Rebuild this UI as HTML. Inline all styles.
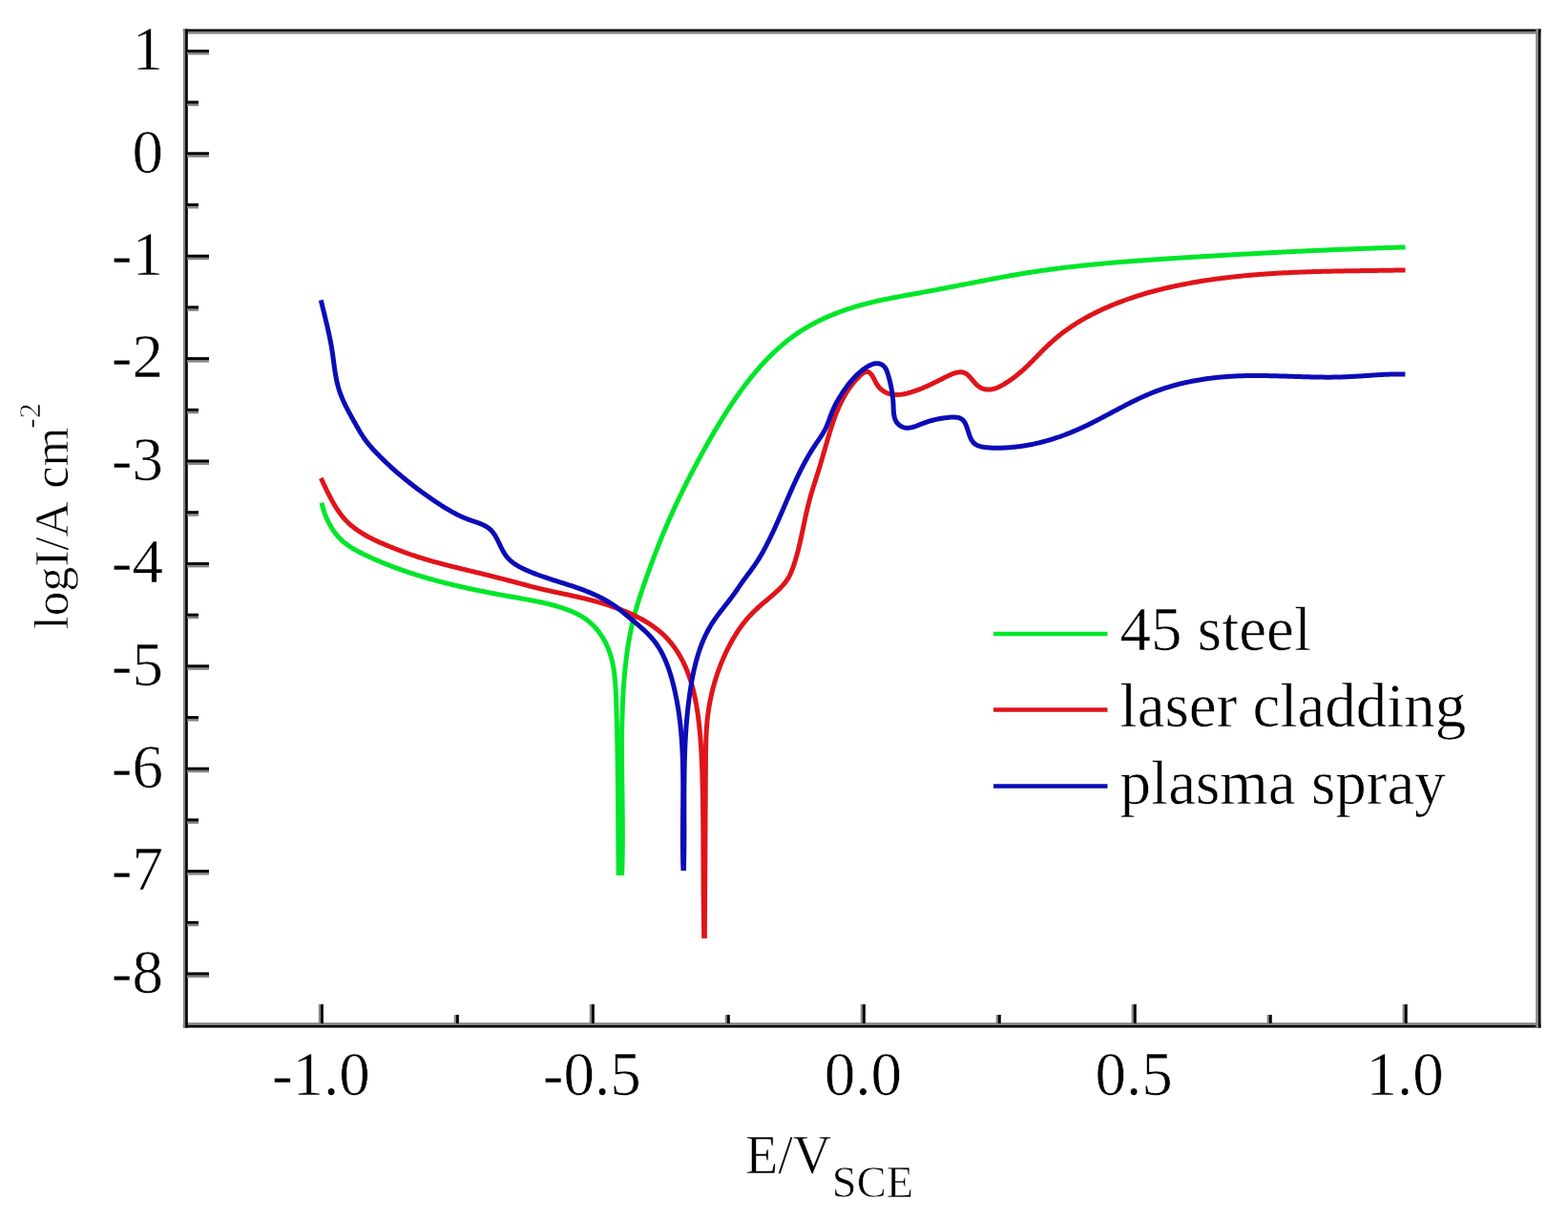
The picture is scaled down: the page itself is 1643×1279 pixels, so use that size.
<!DOCTYPE html>
<html><head><meta charset="utf-8"><title>Polarization curves</title>
<style>
html,body{margin:0;padding:0;background:#fff;}
svg{display:block;}
text{stroke:#fff;stroke-width:0.6px;}
.t{font-family:"Liberation Serif","Times New Roman",serif;font-size:65px;fill:#000;}
.a{font-family:"Liberation Serif","Times New Roman",serif;font-size:56px;fill:#000;}
.s{font-family:"Liberation Serif","Times New Roman",serif;font-size:46.5px;fill:#000;}
.y{font-family:"Liberation Serif","Times New Roman",serif;font-size:51.4px;fill:#000;}
.y2{font-family:"Liberation Serif","Times New Roman",serif;font-size:52.5px;fill:#000;}
.sup{font-family:"Liberation Serif","Times New Roman",serif;font-size:32px;fill:#000;}
</style></head><body>
<svg width="1643" height="1279" viewBox="0 0 1643 1279">
<rect width="1643" height="1279" fill="#fff"/>
<path d="M337.00,526.70L337.35,528.15L337.72,529.60L338.11,531.05L338.53,532.50L338.97,533.94L339.43,535.38L339.92,536.82L340.44,538.25L340.98,539.67L341.54,541.08L342.13,542.49L342.74,543.88L343.37,545.26L344.03,546.63L344.72,547.98L345.43,549.32L346.17,550.64L346.93,551.95L347.71,553.24L348.53,554.50L349.36,555.75L350.23,556.97L351.12,558.17L352.03,559.35L352.97,560.50L353.94,561.62L354.93,562.72L355.95,563.79L356.99,564.83L358.06,565.83L359.16,566.82L360.27,567.77L361.41,568.70L362.57,569.61L363.75,570.49L364.95,571.35L366.17,572.18L367.40,573.00L368.65,573.80L369.91,574.58L371.19,575.34L372.48,576.08L373.79,576.81L375.10,577.52L376.42,578.22L377.75,578.91L379.09,579.59L380.44,580.26L381.79,580.91L383.14,581.56L384.50,582.21L385.86,582.84L387.23,583.47L388.59,584.09L389.96,584.71L391.33,585.32L392.70,585.93L394.07,586.53L395.45,587.12L396.83,587.71L398.21,588.29L399.59,588.87L400.97,589.44L402.35,590.01L403.74,590.57L405.13,591.12L406.52,591.67L407.91,592.22L409.31,592.76L410.70,593.29L412.10,593.82L413.50,594.35L414.90,594.87L416.30,595.38L417.71,595.89L419.11,596.39L420.52,596.89L421.93,597.39L423.34,597.88L424.75,598.36L426.16,598.84L427.58,599.32L429.00,599.79L430.41,600.26L431.83,600.72L433.26,601.18L434.68,601.63L436.10,602.08L437.53,602.53L438.95,602.97L440.38,603.40L441.81,603.83L443.24,604.26L444.68,604.69L446.11,605.11L447.55,605.52L448.98,605.94L450.42,606.34L451.86,606.75L453.30,607.15L454.74,607.55L456.18,607.94L457.62,608.33L459.07,608.71L460.51,609.10L461.96,609.48L463.41,609.85L464.86,610.22L466.31,610.59L467.76,610.96L469.21,611.32L470.66,611.68L472.12,612.03L473.57,612.39L475.03,612.74L476.49,613.08L477.94,613.43L479.40,613.77L480.86,614.11L482.32,614.44L483.78,614.77L485.25,615.10L486.71,615.43L488.17,615.75L489.64,616.07L491.10,616.39L492.57,616.71L494.03,617.02L495.50,617.33L496.97,617.64L498.44,617.95L499.91,618.26L501.38,618.56L502.85,618.86L504.32,619.16L505.79,619.45L507.26,619.75L508.73,620.04L510.21,620.33L511.68,620.62L513.16,620.90L514.63,621.19L516.11,621.47L517.58,621.75L519.06,622.03L520.53,622.31L522.01,622.58L523.49,622.86L524.96,623.13L526.44,623.40L527.92,623.67L529.40,623.94L530.88,624.21L532.35,624.47L533.83,624.74L535.31,625.00L536.79,625.27L538.27,625.53L539.75,625.79L541.23,626.05L542.71,626.31L544.19,626.57L545.67,626.83L547.15,627.09L548.62,627.35L550.10,627.62L551.58,627.88L553.06,628.15L554.53,628.42L556.01,628.70L557.48,628.97L558.95,629.26L560.42,629.54L561.89,629.84L563.36,630.13L564.82,630.44L566.29,630.75L567.75,631.06L569.21,631.39L570.67,631.72L572.12,632.06L573.57,632.40L575.02,632.76L576.47,633.12L577.92,633.50L579.36,633.88L580.80,634.28L582.23,634.68L583.66,635.10L585.09,635.53L586.52,635.97L587.94,636.42L589.36,636.89L590.77,637.37L592.19,637.86L593.59,638.37L594.99,638.89L596.39,639.43L597.78,639.98L599.17,640.55L600.55,641.14L601.91,641.75L603.27,642.38L604.61,643.04L605.94,643.71L607.26,644.42L608.56,645.15L609.84,645.90L611.10,646.69L612.34,647.50L613.56,648.35L614.76,649.22L615.93,650.13L617.08,651.06L618.21,652.02L619.32,653.01L620.40,654.02L621.46,655.06L622.50,656.13L623.52,657.21L624.51,658.32L625.47,659.46L626.42,660.61L627.33,661.78L628.23,662.98L629.10,664.19L629.94,665.42L630.76,666.66L631.55,667.93L632.32,669.21L633.06,670.50L633.78,671.81L634.47,673.13L635.13,674.46L635.77,675.80L636.38,677.16L636.97,678.52L637.53,679.89L638.06,681.28L638.56,682.67L639.04,684.06L639.50,685.47L639.94,686.89L640.35,688.31L640.74,689.74L641.10,691.17L641.45,692.61L641.78,694.06L642.09,695.52L642.38,696.98L642.65,698.44L642.90,699.91L643.14,701.39L643.36,702.87L643.57,704.36L643.76,705.85L643.94,707.34L644.11,708.84L644.26,710.34L644.41,711.84L644.54,713.34L644.66,714.85L644.77,716.36L644.88,717.88L644.97,719.39L645.06,720.91L645.14,722.42L645.22,723.94L645.29,725.46L645.36,726.98L645.42,728.50L645.48,730.02L645.53,731.53L645.59,733.05L645.64,734.57L645.69,736.08L645.75,737.60L645.80,739.11L645.85,740.62L645.90,742.14L645.94,743.65L645.99,745.16L646.04,746.66L646.08,748.17L646.13,749.68L646.17,751.18L646.21,752.69L646.25,754.19L646.29,755.70L646.34,757.20L646.37,758.70L646.41,760.20L646.45,761.70L646.49,763.20L646.52,764.70L646.56,766.20L646.59,767.70L646.63,769.19L646.66,770.69L646.69,772.18L646.73,773.68L646.76,775.17L646.79,776.67L646.82,778.16L646.85,779.65L646.88,781.15L646.90,782.64L646.93,784.13L646.96,785.62L646.98,787.11L647.01,788.60L647.03,790.09L647.06,791.58L647.08,793.07L647.11,794.55L647.13,796.04L647.15,797.53L647.17,799.02L647.19,800.50L647.21,801.99L647.23,803.48L647.25,804.96L647.27,806.45L647.29,807.93L647.31,809.42L647.33,810.90L647.35,812.39L647.36,813.87L647.38,815.36L647.40,816.84L647.41,818.33L647.43,819.81L647.44,821.30L647.46,822.78L647.47,824.27L647.49,825.75L647.50,827.24L647.52,828.72L647.53,830.20L647.54,831.69L647.56,833.17L647.57,834.66L647.58,836.14L647.59,837.63L647.61,839.11L647.62,840.60L647.63,842.09L647.64,843.57L647.65,845.06L647.66,846.54L647.67,848.03L647.68,849.52L647.69,851.00L647.71,852.49L647.72,853.98L647.73,855.47L647.74,856.96L647.75,858.45L647.76,859.94L647.77,861.42L647.78,862.91L647.79,864.41L647.80,865.90L647.81,867.39L647.82,868.88L647.83,870.37L647.84,871.87L647.85,873.36L647.86,874.85L647.87,876.35L647.88,877.84L647.89,879.34L647.90,880.84L647.91,882.34L647.92,883.83L647.93,885.33L647.94,886.83L647.95,888.33L647.96,889.83L647.97,891.33L647.98,892.84L648.00,894.34L648.01,895.85L648.02,897.35L648.03,898.86L648.04,900.36L648.06,901.87L648.07,903.38L648.08,904.89L648.10,906.40L648.11,907.91L648.12,909.42L648.14,910.94L648.15,912.45L648.17,913.97L648.18,915.48L648.20,917.00" fill="none" stroke="#00e62a" stroke-width="5.0" stroke-linejoin="round" stroke-linecap="butt"/>
<path d="M651.60,917.00L651.66,915.50L651.71,914.01L651.76,912.51L651.81,911.02L651.85,909.52L651.90,908.02L651.94,906.53L651.98,905.03L652.02,903.53L652.05,902.04L652.08,900.54L652.11,899.04L652.14,897.55L652.17,896.05L652.19,894.55L652.21,893.05L652.23,891.56L652.25,890.06L652.27,888.56L652.28,887.06L652.29,885.57L652.30,884.07L652.31,882.57L652.32,881.07L652.33,879.57L652.33,878.07L652.33,876.58L652.34,875.08L652.34,873.58L652.34,872.08L652.33,870.58L652.33,869.08L652.32,867.58L652.32,866.08L652.31,864.58L652.30,863.08L652.29,861.59L652.28,860.09L652.27,858.59L652.26,857.09L652.25,855.59L652.24,854.09L652.22,852.59L652.21,851.09L652.19,849.59L652.17,848.09L652.16,846.59L652.14,845.09L652.12,843.59L652.10,842.09L652.09,840.59L652.07,839.09L652.05,837.59L652.03,836.09L652.01,834.59L651.99,833.09L651.97,831.59L651.95,830.09L651.93,828.59L651.91,827.09L651.89,825.59L651.87,824.09L651.85,822.59L651.83,821.09L651.81,819.59L651.79,818.09L651.77,816.59L651.75,815.09L651.74,813.58L651.72,812.08L651.70,810.58L651.69,809.08L651.67,807.58L651.65,806.08L651.64,804.58L651.63,803.08L651.61,801.58L651.60,800.08L651.59,798.58L651.58,797.08L651.57,795.58L651.56,794.08L651.56,792.58L651.55,791.08L651.55,789.58L651.54,788.08L651.54,786.58L651.54,785.08L651.54,783.58L651.54,782.08L651.54,780.58L651.55,779.09L651.55,777.59L651.56,776.09L651.57,774.59L651.58,773.09L651.59,771.59L651.61,770.09L651.62,768.59L651.64,767.09L651.66,765.59L651.68,764.09L651.71,762.60L651.73,761.10L651.76,759.60L651.79,758.10L651.82,756.60L651.86,755.10L651.89,753.60L651.93,752.11L651.97,750.61L652.02,749.11L652.06,747.61L652.11,746.12L652.16,744.62L652.22,743.12L652.27,741.62L652.33,740.13L652.39,738.63L652.46,737.13L652.52,735.63L652.59,734.14L652.67,732.64L652.74,731.14L652.82,729.65L652.90,728.15L652.99,726.66L653.07,725.16L653.16,723.66L653.26,722.17L653.36,720.67L653.46,719.18L653.56,717.68L653.67,716.19L653.78,714.69L653.89,713.20L654.01,711.70L654.13,710.21L654.26,708.72L654.39,707.22L654.52,705.73L654.66,704.24L654.80,702.74L654.94,701.25L655.09,699.76L655.25,698.27L655.41,696.78L655.57,695.29L655.74,693.80L655.91,692.31L656.09,690.82L656.27,689.34L656.46,687.85L656.65,686.37L656.85,684.88L657.06,683.40L657.27,681.91L657.48,680.43L657.70,678.95L657.93,677.47L658.16,675.99L658.40,674.52L658.65,673.04L658.90,671.57L659.16,670.09L659.42,668.62L659.69,667.15L659.97,665.68L660.25,664.21L660.54,662.74L660.84,661.28L661.14,659.81L661.45,658.35L661.77,656.89L662.09,655.43L662.43,653.97L662.77,652.51L663.11,651.06L663.47,649.61L663.83,648.15L664.20,646.71L664.58,645.26L664.96,643.81L665.35,642.37L665.75,640.92L666.15,639.48L666.56,638.04L666.97,636.60L667.39,635.16L667.82,633.73L668.25,632.29L668.69,630.86L669.13,629.43L669.57,627.99L670.03,626.56L670.48,625.14L670.94,623.71L671.40,622.28L671.87,620.86L672.34,619.43L672.82,618.01L673.30,616.59L673.78,615.17L674.27,613.75L674.75,612.33L675.25,610.91L675.74,609.49L676.23,608.08L676.73,606.66L677.23,605.25L677.73,603.83L678.24,602.42L678.74,601.01L679.25,599.60L679.76,598.19L680.27,596.78L680.78,595.37L681.30,593.96L681.82,592.55L682.33,591.15L682.86,589.74L683.38,588.34L683.90,586.93L684.43,585.53L684.96,584.13L685.49,582.73L686.02,581.33L686.56,579.93L687.10,578.53L687.64,577.13L688.18,575.74L688.73,574.34L689.27,572.95L689.82,571.55L690.37,570.16L690.93,568.77L691.48,567.38L692.04,565.99L692.61,564.60L693.17,563.21L693.74,561.83L694.31,560.44L694.88,559.06L695.45,557.68L696.03,556.29L696.61,554.91L697.19,553.53L697.78,552.16L698.37,550.78L698.96,549.40L699.55,548.03L700.15,546.65L700.75,545.28L701.35,543.91L701.96,542.54L702.57,541.17L703.18,539.80L703.79,538.44L704.41,537.07L705.03,535.71L705.65,534.34L706.28,532.98L706.90,531.62L707.54,530.26L708.17,528.91L708.80,527.55L709.44,526.19L710.08,524.84L710.73,523.48L711.37,522.13L712.02,520.78L712.67,519.43L713.33,518.08L713.98,516.73L714.64,515.39L715.30,514.04L715.96,512.70L716.63,511.35L717.29,510.01L717.96,508.67L718.63,507.33L719.31,505.99L719.98,504.66L720.66,503.32L721.34,501.98L722.02,500.65L722.70,499.32L723.39,497.98L724.07,496.65L724.76,495.32L725.45,493.99L726.14,492.67L726.84,491.34L727.53,490.01L728.23,488.69L728.93,487.37L729.63,486.04L730.33,484.72L731.04,483.40L731.74,482.08L732.45,480.77L733.16,479.45L733.87,478.14L734.59,476.82L735.30,475.51L736.02,474.20L736.74,472.89L737.46,471.58L738.19,470.27L738.91,468.96L739.64,467.66L740.37,466.35L741.11,465.05L741.84,463.75L742.58,462.45L743.32,461.15L744.06,459.85L744.81,458.56L745.56,457.26L746.31,455.97L747.06,454.68L747.82,453.39L748.58,452.10L749.34,450.81L750.11,449.53L750.87,448.24L751.64,446.96L752.42,445.68L753.20,444.40L753.98,443.12L754.76,441.84L755.54,440.57L756.33,439.30L757.13,438.02L757.92,436.75L758.72,435.49L759.52,434.22L760.33,432.95L761.14,431.69L761.95,430.43L762.77,429.17L763.58,427.91L764.41,426.65L765.23,425.40L766.06,424.15L766.90,422.90L767.74,421.65L768.58,420.40L769.42,419.16L770.27,417.92L771.13,416.68L771.99,415.45L772.85,414.21L773.72,412.99L774.59,411.76L775.46,410.54L776.34,409.32L777.23,408.10L778.12,406.89L779.01,405.68L779.91,404.47L780.81,403.27L781.72,402.07L782.63,400.88L783.55,399.69L784.48,398.51L785.40,397.33L786.34,396.15L787.28,394.98L788.22,393.81L789.17,392.65L790.13,391.49L791.09,390.34L792.05,389.19L793.02,388.05L794.00,386.92L794.99,385.79L795.97,384.66L796.97,383.54L797.97,382.43L798.98,381.32L799.99,380.22L801.01,379.12L802.04,378.03L803.07,376.95L804.11,375.88L805.15,374.81L806.20,373.74L807.26,372.69L808.32,371.64L809.39,370.60L810.47,369.56L811.55,368.53L812.64,367.52L813.74,366.50L814.85,365.50L815.96,364.50L817.07,363.52L818.20,362.54L819.33,361.57L820.47,360.60L821.61,359.65L822.76,358.71L823.92,357.77L825.09,356.84L826.26,355.92L827.44,355.02L828.63,354.12L829.82,353.23L831.03,352.35L832.24,351.48L833.45,350.62L834.68,349.77L835.91,348.93L837.15,348.10L838.39,347.29L839.65,346.48L840.91,345.68L842.18,344.89L843.45,344.12L844.73,343.35L846.02,342.59L847.32,341.84L848.62,341.11L849.93,340.38L851.24,339.66L852.56,338.95L853.88,338.26L855.22,337.57L856.55,336.89L857.89,336.22L859.24,335.56L860.59,334.91L861.95,334.26L863.32,333.63L864.68,333.01L866.06,332.39L867.43,331.79L868.81,331.19L870.20,330.60L871.59,330.02L872.98,329.45L874.38,328.89L875.78,328.34L877.19,327.79L878.60,327.25L880.01,326.73L881.42,326.21L882.84,325.70L884.26,325.19L885.69,324.70L887.12,324.21L888.55,323.73L889.98,323.26L891.41,322.80L892.85,322.34L894.29,321.89L895.73,321.45L897.17,321.02L898.62,320.60L900.06,320.18L901.51,319.77L902.96,319.37L904.41,318.97L905.86,318.59L907.32,318.21L908.77,317.83L910.22,317.46L911.68,317.10L913.14,316.75L914.59,316.40L916.05,316.06L917.51,315.72L918.97,315.39L920.43,315.06L921.90,314.74L923.36,314.42L924.82,314.11L926.29,313.80L927.75,313.50L929.22,313.20L930.68,312.90L932.15,312.61L933.61,312.32L935.08,312.04L936.55,311.75L938.02,311.47L939.49,311.19L940.96,310.92L942.43,310.64L943.90,310.37L945.37,310.10L946.84,309.83L948.31,309.57L949.78,309.30L951.25,309.04L952.73,308.77L954.20,308.51L955.67,308.24L957.14,307.98L958.61,307.71L960.09,307.45L961.56,307.18L963.03,306.92L964.50,306.65L965.98,306.38L967.45,306.11L968.92,305.84L970.39,305.57L971.86,305.30L973.34,305.02L974.81,304.75L976.28,304.47L977.75,304.20L979.22,303.92L980.69,303.64L982.17,303.36L983.64,303.08L985.11,302.80L986.58,302.52L988.05,302.23L989.52,301.95L990.99,301.67L992.47,301.38L993.94,301.10L995.41,300.81L996.88,300.53L998.35,300.24L999.82,299.95L1001.29,299.67L1002.77,299.38L1004.24,299.09L1005.71,298.81L1007.18,298.52L1008.65,298.23L1010.12,297.95L1011.60,297.66L1013.07,297.37L1014.54,297.09L1016.01,296.80L1017.48,296.51L1018.96,296.23L1020.43,295.94L1021.90,295.66L1023.37,295.37L1024.85,295.09L1026.32,294.80L1027.79,294.52L1029.26,294.24L1030.74,293.96L1032.21,293.68L1033.68,293.40L1035.16,293.12L1036.63,292.84L1038.10,292.56L1039.58,292.28L1041.05,292.01L1042.53,291.73L1044.00,291.46L1045.48,291.19L1046.95,290.91L1048.43,290.64L1049.90,290.38L1051.38,290.11L1052.85,289.84L1054.33,289.58L1055.80,289.31L1057.28,289.05L1058.75,288.79L1060.23,288.53L1061.71,288.28L1063.18,288.02L1064.66,287.77L1066.14,287.51L1067.62,287.26L1069.10,287.02L1070.57,286.77L1072.05,286.52L1073.53,286.28L1075.01,286.04L1076.49,285.80L1077.97,285.57L1079.45,285.33L1080.93,285.10L1082.41,284.87L1083.89,284.64L1085.37,284.42L1086.85,284.20L1088.33,283.98L1089.81,283.76L1091.30,283.54L1092.78,283.33L1094.26,283.12L1095.74,282.91L1097.23,282.70L1098.71,282.50L1100.19,282.30L1101.68,282.10L1103.16,281.90L1104.65,281.70L1106.13,281.51L1107.62,281.32L1109.10,281.13L1110.59,280.94L1112.07,280.75L1113.56,280.57L1115.05,280.39L1116.53,280.21L1118.02,280.03L1119.51,279.86L1121.00,279.68L1122.48,279.51L1123.97,279.34L1125.46,279.17L1126.95,279.00L1128.44,278.84L1129.92,278.68L1131.41,278.52L1132.90,278.36L1134.39,278.20L1135.88,278.04L1137.37,277.89L1138.86,277.73L1140.35,277.58L1141.84,277.43L1143.33,277.28L1144.82,277.14L1146.31,276.99L1147.80,276.85L1149.29,276.71L1150.79,276.57L1152.28,276.43L1153.77,276.29L1155.26,276.15L1156.75,276.02L1158.24,275.88L1159.74,275.75L1161.23,275.62L1162.72,275.49L1164.21,275.36L1165.71,275.23L1167.20,275.10L1168.69,274.98L1170.19,274.85L1171.68,274.73L1173.17,274.61L1174.67,274.49L1176.16,274.37L1177.66,274.25L1179.15,274.13L1180.64,274.01L1182.14,273.90L1183.63,273.78L1185.13,273.67L1186.62,273.56L1188.12,273.44L1189.61,273.33L1191.10,273.22L1192.60,273.11L1194.09,273.00L1195.59,272.90L1197.08,272.79L1198.58,272.68L1200.07,272.58L1201.57,272.47L1203.07,272.37L1204.56,272.26L1206.06,272.16L1207.55,272.06L1209.05,271.96L1210.54,271.85L1212.04,271.75L1213.53,271.65L1215.03,271.55L1216.53,271.45L1218.02,271.35L1219.52,271.26L1221.01,271.16L1222.51,271.06L1224.01,270.96L1225.50,270.87L1227.00,270.77L1228.49,270.67L1229.99,270.58L1231.49,270.48L1232.98,270.38L1234.48,270.29L1235.97,270.19L1237.47,270.10L1238.97,270.00L1240.46,269.91L1241.96,269.82L1243.45,269.72L1244.95,269.63L1246.45,269.54L1247.94,269.44L1249.44,269.35L1250.94,269.26L1252.43,269.17L1253.93,269.07L1255.42,268.98L1256.92,268.89L1258.42,268.80L1259.91,268.71L1261.41,268.62L1262.90,268.53L1264.40,268.44L1265.90,268.35L1267.39,268.26L1268.89,268.17L1270.39,268.08L1271.88,267.99L1273.38,267.91L1274.87,267.82L1276.37,267.73L1277.87,267.64L1279.36,267.56L1280.86,267.47L1282.36,267.38L1283.85,267.30L1285.35,267.21L1286.85,267.12L1288.34,267.04L1289.84,266.95L1291.33,266.87L1292.83,266.79L1294.33,266.70L1295.82,266.62L1297.32,266.53L1298.82,266.45L1300.31,266.37L1301.81,266.28L1303.31,266.20L1304.80,266.12L1306.30,266.04L1307.80,265.96L1309.29,265.88L1310.79,265.79L1312.29,265.71L1313.78,265.63L1315.28,265.55L1316.78,265.47L1318.27,265.39L1319.77,265.31L1321.27,265.24L1322.76,265.16L1324.26,265.08L1325.76,265.00L1327.25,264.92L1328.75,264.85L1330.25,264.77L1331.74,264.69L1333.24,264.62L1334.74,264.54L1336.23,264.46L1337.73,264.39L1339.23,264.31L1340.72,264.24L1342.22,264.16L1343.72,264.09L1345.21,264.02L1346.71,263.94L1348.21,263.87L1349.70,263.80L1351.20,263.72L1352.70,263.65L1354.20,263.58L1355.69,263.51L1357.19,263.43L1358.69,263.36L1360.18,263.29L1361.68,263.22L1363.18,263.15L1364.67,263.08L1366.17,263.01L1367.67,262.94L1369.17,262.87L1370.66,262.80L1372.16,262.74L1373.66,262.67L1375.15,262.60L1376.65,262.53L1378.15,262.47L1379.65,262.40L1381.14,262.33L1382.64,262.27L1384.14,262.20L1385.63,262.13L1387.13,262.07L1388.63,262.00L1390.13,261.94L1391.62,261.88L1393.12,261.81L1394.62,261.75L1396.12,261.69L1397.61,261.62L1399.11,261.56L1400.61,261.50L1402.10,261.44L1403.60,261.37L1405.10,261.31L1406.60,261.25L1408.09,261.19L1409.59,261.13L1411.09,261.07L1412.59,261.01L1414.08,260.95L1415.58,260.89L1417.08,260.83L1418.58,260.78L1420.07,260.72L1421.57,260.66L1423.07,260.60L1424.57,260.55L1426.06,260.49L1427.56,260.43L1429.06,260.38L1430.56,260.32L1432.06,260.27L1433.55,260.21L1435.05,260.16L1436.55,260.10L1438.05,260.05L1439.54,259.99L1441.04,259.94L1442.54,259.89L1444.04,259.83L1445.54,259.78L1447.03,259.73L1448.53,259.68L1450.03,259.63L1451.53,259.58L1453.03,259.53L1454.52,259.48L1456.02,259.43L1457.52,259.38L1459.02,259.33L1460.52,259.28L1462.01,259.23L1463.51,259.18L1465.01,259.13L1466.51,259.09L1468.01,259.04L1469.50,258.99L1471.00,258.95L1472.50,258.90" fill="none" stroke="#00e62a" stroke-width="5.0" stroke-linejoin="round" stroke-linecap="butt"/>
<path d="M336.30,500.90L336.93,502.22L337.56,503.55L338.20,504.88L338.83,506.22L339.47,507.57L340.11,508.92L340.75,510.28L341.40,511.64L342.06,513.00L342.72,514.36L343.39,515.73L344.06,517.09L344.74,518.45L345.44,519.80L346.14,521.15L346.85,522.50L347.57,523.84L348.30,525.17L349.04,526.50L349.79,527.81L350.56,529.12L351.34,530.42L352.14,531.70L352.95,532.97L353.78,534.22L354.62,535.46L355.48,536.69L356.36,537.90L357.25,539.09L358.16,540.26L359.10,541.41L360.05,542.54L361.02,543.65L362.02,544.73L363.03,545.79L364.07,546.83L365.13,547.85L366.21,548.84L367.30,549.81L368.42,550.76L369.55,551.69L370.70,552.60L371.87,553.50L373.05,554.37L374.25,555.22L375.47,556.06L376.70,556.88L377.94,557.68L379.20,558.47L380.47,559.24L381.75,560.00L383.04,560.74L384.34,561.47L385.66,562.18L386.98,562.89L388.32,563.58L389.66,564.25L391.01,564.92L392.37,565.57L393.73,566.22L395.10,566.86L396.48,567.48L397.86,568.10L399.25,568.71L400.64,569.31L402.03,569.91L403.42,570.50L404.82,571.08L406.22,571.66L407.62,572.23L409.02,572.80L410.42,573.36L411.83,573.92L413.23,574.47L414.63,575.02L416.03,575.57L417.44,576.11L418.84,576.65L420.24,577.18L421.65,577.71L423.06,578.23L424.46,578.74L425.87,579.25L427.28,579.76L428.69,580.26L430.11,580.75L431.52,581.24L432.93,581.72L434.35,582.20L435.77,582.67L437.19,583.13L438.61,583.59L440.03,584.04L441.46,584.48L442.88,584.93L444.31,585.36L445.74,585.79L447.17,586.22L448.60,586.64L450.03,587.05L451.46,587.47L452.90,587.87L454.33,588.28L455.77,588.68L457.21,589.07L458.65,589.46L460.09,589.85L461.53,590.24L462.97,590.62L464.41,591.00L465.86,591.37L467.30,591.75L468.75,592.12L470.19,592.48L471.64,592.85L473.09,593.21L474.54,593.57L475.99,593.93L477.44,594.29L478.89,594.65L480.34,595.01L481.79,595.36L483.24,595.71L484.70,596.07L486.15,596.42L487.60,596.77L489.06,597.12L490.51,597.47L491.97,597.82L493.42,598.18L494.87,598.53L496.33,598.88L497.79,599.23L499.24,599.58L500.70,599.94L502.15,600.29L503.61,600.65L505.06,601.00L506.52,601.36L507.97,601.71L509.43,602.07L510.89,602.43L512.34,602.79L513.80,603.15L515.25,603.51L516.71,603.87L518.16,604.24L519.61,604.60L521.07,604.97L522.52,605.34L523.97,605.71L525.43,606.08L526.88,606.45L528.33,606.83L529.78,607.20L531.23,607.58L532.68,607.96L534.13,608.34L535.58,608.73L537.03,609.11L538.48,609.50L539.93,609.89L541.37,610.28L542.82,610.67L544.26,611.07L545.71,611.46L547.15,611.85L548.60,612.25L550.04,612.64L551.49,613.03L552.94,613.41L554.38,613.79L555.83,614.17L557.28,614.55L558.73,614.92L560.18,615.28L561.63,615.64L563.09,615.99L564.54,616.34L566.00,616.69L567.46,617.03L568.92,617.36L570.37,617.70L571.83,618.02L573.30,618.35L574.76,618.67L576.22,618.99L577.68,619.31L579.14,619.63L580.61,619.95L582.07,620.26L583.53,620.57L585.00,620.88L586.46,621.19L587.93,621.50L589.39,621.82L590.85,622.13L592.32,622.44L593.78,622.75L595.24,623.06L596.71,623.38L598.17,623.70L599.63,624.01L601.09,624.33L602.55,624.66L604.01,624.98L605.47,625.31L606.93,625.65L608.39,625.98L609.84,626.32L611.30,626.67L612.75,627.02L614.20,627.37L615.65,627.73L617.11,628.09L618.55,628.46L620.00,628.84L621.45,629.22L622.89,629.60L624.33,630.00L625.77,630.40L627.21,630.81L628.65,631.22L630.08,631.64L631.52,632.07L632.95,632.50L634.37,632.95L635.80,633.40L637.22,633.85L638.64,634.32L640.06,634.80L641.48,635.28L642.89,635.77L644.30,636.27L645.71,636.78L647.11,637.29L648.51,637.82L649.91,638.35L651.31,638.90L652.70,639.45L654.09,640.02L655.47,640.59L656.85,641.17L658.23,641.77L659.61,642.37L660.98,642.99L662.34,643.61L663.70,644.25L665.06,644.89L666.41,645.55L667.75,646.23L669.09,646.91L670.42,647.61L671.75,648.32L673.06,649.04L674.37,649.78L675.67,650.53L676.96,651.30L678.25,652.08L679.52,652.88L680.78,653.69L682.03,654.52L683.27,655.36L684.50,656.22L685.72,657.10L686.92,657.99L688.11,658.90L689.29,659.82L690.45,660.77L691.59,661.72L692.72,662.70L693.83,663.70L694.93,664.71L696.01,665.74L697.07,666.79L698.11,667.85L699.14,668.93L700.14,670.03L701.13,671.15L702.10,672.28L703.05,673.43L703.98,674.59L704.90,675.77L705.80,676.96L706.68,678.16L707.54,679.38L708.38,680.60L709.21,681.84L710.02,683.10L710.81,684.36L711.58,685.63L712.33,686.91L713.07,688.21L713.79,689.51L714.49,690.82L715.18,692.13L715.85,693.46L716.50,694.80L717.13,696.14L717.75,697.49L718.35,698.85L718.94,700.21L719.51,701.59L720.07,702.97L720.61,704.35L721.14,705.75L721.65,707.15L722.15,708.55L722.63,709.96L723.10,711.38L723.56,712.80L724.01,714.23L724.44,715.67L724.86,717.11L725.26,718.55L725.66,720.00L726.04,721.45L726.41,722.91L726.77,724.37L727.12,725.83L727.46,727.30L727.79,728.77L728.10,730.25L728.41,731.73L728.71,733.21L729.00,734.69L729.27,736.18L729.54,737.66L729.80,739.15L730.05,740.65L730.30,742.14L730.53,743.63L730.76,745.13L730.98,746.63L731.19,748.13L731.40,749.63L731.60,751.12L731.79,752.62L731.98,754.12L732.15,755.62L732.33,757.12L732.50,758.62L732.66,760.12L732.82,761.62L732.97,763.11L733.12,764.61L733.26,766.10L733.40,767.60L733.54,769.09L733.67,770.58L733.79,772.07L733.91,773.56L734.03,775.05L734.14,776.54L734.25,778.03L734.36,779.52L734.46,781.01L734.56,782.50L734.65,783.99L734.74,785.47L734.83,786.96L734.91,788.45L734.99,789.94L735.07,791.42L735.14,792.91L735.22,794.40L735.28,795.88L735.35,797.37L735.41,798.85L735.48,800.34L735.53,801.83L735.59,803.31L735.64,804.80L735.70,806.29L735.75,807.77L735.80,809.26L735.84,810.75L735.89,812.23L735.93,813.72L735.97,815.21L736.01,816.70L736.05,818.19L736.09,819.68L736.12,821.17L736.16,822.66L736.19,824.15L736.23,825.64L736.26,827.13L736.29,828.63L736.32,830.12L736.35,831.61L736.38,833.11L736.41,834.60L736.43,836.09L736.46,837.59L736.48,839.09L736.51,840.58L736.53,842.08L736.55,843.57L736.57,845.07L736.59,846.57L736.61,848.07L736.63,849.56L736.65,851.06L736.67,852.56L736.69,854.06L736.70,855.56L736.72,857.06L736.73,858.56L736.75,860.06L736.76,861.56L736.78,863.06L736.79,864.56L736.80,866.06L736.81,867.56L736.82,869.06L736.83,870.57L736.85,872.07L736.86,873.57L736.87,875.07L736.87,876.57L736.88,878.08L736.89,879.58L736.90,881.08L736.91,882.58L736.92,884.09L736.92,885.59L736.93,887.09L736.94,888.60L736.95,890.10L736.95,891.60L736.96,893.10L736.97,894.61L736.97,896.11L736.98,897.61L736.98,899.12L736.99,900.62L737.00,902.12L737.00,903.63L737.01,905.13L737.01,906.63L737.02,908.14L737.03,909.64L737.03,911.14L737.04,912.65L737.04,914.15L737.05,915.65L737.06,917.15L737.06,918.66L737.07,920.16L737.08,921.66L737.09,923.16L737.09,924.66L737.10,926.17L737.11,927.67L737.12,929.17L737.13,930.67L737.14,932.17L737.15,933.67L737.16,935.17L737.17,936.67L737.18,938.17L737.19,939.67L737.20,941.17L737.21,942.67L737.23,944.17L737.24,945.67L737.25,947.16L737.27,948.66L737.28,950.16L737.30,951.66L737.31,953.15L737.33,954.65L737.35,956.15L737.37,957.64L737.39,959.14L737.41,960.63L737.43,962.13L737.45,963.62L737.47,965.11L737.49,966.61L737.51,968.10L737.54,969.59L737.56,971.08L737.59,972.58L737.62,974.07L737.65,975.56L737.67,977.05L737.70,978.54L737.74,980.02L737.77,981.51L737.80,983.00" fill="none" stroke="#e0141a" stroke-width="5.0" stroke-linejoin="round" stroke-linecap="butt"/>
<path d="M738.30,983.00L738.31,981.50L738.32,980.00L738.33,978.49L738.34,976.99L738.35,975.49L738.36,973.99L738.37,972.49L738.38,970.98L738.39,969.48L738.40,967.98L738.41,966.48L738.42,964.98L738.43,963.48L738.44,961.98L738.45,960.48L738.46,958.98L738.47,957.48L738.48,955.98L738.49,954.48L738.50,952.98L738.51,951.48L738.52,949.98L738.53,948.48L738.54,946.98L738.55,945.48L738.56,943.98L738.57,942.48L738.58,940.98L738.59,939.48L738.59,937.98L738.60,936.48L738.61,934.98L738.62,933.48L738.63,931.98L738.64,930.48L738.65,928.98L738.66,927.49L738.67,925.99L738.67,924.49L738.68,922.99L738.69,921.49L738.70,919.99L738.71,918.49L738.72,917.00L738.73,915.50L738.74,914.00L738.74,912.50L738.75,911.00L738.76,909.50L738.77,908.00L738.78,906.51L738.79,905.01L738.80,903.51L738.80,902.01L738.81,900.51L738.82,899.02L738.83,897.52L738.84,896.02L738.85,894.52L738.85,893.02L738.86,891.52L738.87,890.03L738.88,888.53L738.89,887.03L738.90,885.53L738.90,884.03L738.91,882.54L738.92,881.04L738.93,879.54L738.94,878.04L738.95,876.54L738.95,875.04L738.96,873.55L738.97,872.05L738.98,870.55L738.99,869.05L739.00,867.55L739.00,866.05L739.01,864.56L739.02,863.06L739.03,861.56L739.04,860.06L739.05,858.56L739.05,857.06L739.06,855.56L739.07,854.07L739.08,852.57L739.09,851.07L739.10,849.57L739.11,848.07L739.11,846.57L739.12,845.07L739.13,843.57L739.14,842.07L739.15,840.57L739.16,839.07L739.17,837.57L739.17,836.07L739.18,834.57L739.19,833.07L739.20,831.57L739.21,830.07L739.22,828.57L739.23,827.07L739.24,825.57L739.24,824.07L739.25,822.57L739.26,821.07L739.27,819.57L739.28,818.07L739.29,816.57L739.30,815.07L739.31,813.57L739.32,812.07L739.33,810.56L739.34,809.06L739.35,807.56L739.36,806.06L739.36,804.56L739.37,803.05L739.38,801.55L739.39,800.05L739.40,798.55L739.41,797.04L739.42,795.54L739.44,794.04L739.45,792.54L739.46,791.03L739.48,789.53L739.50,788.03L739.52,786.53L739.54,785.02L739.57,783.52L739.60,782.02L739.63,780.52L739.67,779.02L739.71,777.52L739.76,776.02L739.81,774.52L739.87,773.02L739.93,771.52L740.00,770.02L740.07,768.52L740.15,767.03L740.24,765.53L740.33,764.03L740.43,762.54L740.54,761.05L740.66,759.55L740.78,758.06L740.92,756.57L741.06,755.08L741.21,753.59L741.37,752.10L741.54,750.61L741.72,749.13L741.91,747.64L742.11,746.16L742.32,744.68L742.54,743.19L742.77,741.71L743.01,740.24L743.26,738.76L743.52,737.28L743.79,735.81L744.07,734.34L744.36,732.87L744.66,731.40L744.97,729.94L745.29,728.47L745.62,727.01L745.96,725.55L746.31,724.10L746.68,722.64L747.05,721.19L747.43,719.74L747.82,718.29L748.22,716.85L748.63,715.41L749.05,713.97L749.48,712.53L749.92,711.10L750.37,709.67L750.83,708.24L751.30,706.82L751.78,705.40L752.27,703.98L752.77,702.57L753.28,701.16L753.80,699.75L754.33,698.35L754.87,696.95L755.42,695.55L755.98,694.16L756.55,692.77L757.14,691.39L757.73,690.01L758.33,688.63L758.94,687.26L759.56,685.90L760.19,684.53L760.83,683.17L761.48,681.82L762.14,680.47L762.81,679.12L763.49,677.78L764.18,676.45L764.88,675.12L765.59,673.79L766.31,672.47L767.04,671.16L767.78,669.86L768.54,668.56L769.30,667.26L770.08,665.98L770.87,664.70L771.67,663.43L772.48,662.17L773.30,660.92L774.14,659.68L774.99,658.44L775.85,657.22L776.72,656.01L777.61,654.80L778.51,653.61L779.43,652.43L780.35,651.26L781.29,650.10L782.25,648.95L783.21,647.82L784.20,646.70L785.19,645.59L786.20,644.49L787.23,643.41L788.27,642.34L789.32,641.29L790.39,640.24L791.47,639.21L792.55,638.18L793.65,637.17L794.76,636.16L795.88,635.16L797.00,634.17L798.13,633.18L799.26,632.20L800.40,631.22L801.54,630.24L802.69,629.27L803.83,628.29L804.98,627.32L806.13,626.34L807.27,625.36L808.42,624.38L809.56,623.40L810.69,622.41L811.83,621.42L812.95,620.41L814.07,619.40L815.17,618.38L816.25,617.35L817.32,616.30L818.37,615.23L819.39,614.15L820.39,613.05L821.36,611.93L822.30,610.79L823.20,609.62L824.07,608.42L824.90,607.20L825.69,605.95L826.43,604.67L827.14,603.36L827.81,602.03L828.45,600.68L829.05,599.30L829.63,597.91L830.18,596.51L830.70,595.09L831.21,593.67L831.70,592.23L832.17,590.79L832.63,589.35L833.08,587.91L833.52,586.46L833.95,585.02L834.36,583.57L834.77,582.12L835.17,580.67L835.56,579.22L835.94,577.77L836.31,576.31L836.68,574.86L837.04,573.40L837.39,571.95L837.73,570.49L838.07,569.03L838.41,567.57L838.74,566.11L839.07,564.65L839.39,563.19L839.71,561.73L840.02,560.27L840.33,558.81L840.64,557.35L840.95,555.89L841.26,554.42L841.57,552.96L841.87,551.50L842.18,550.04L842.49,548.58L842.79,547.11L843.10,545.65L843.42,544.19L843.73,542.73L844.04,541.27L844.36,539.81L844.69,538.35L845.01,536.89L845.35,535.43L845.68,533.97L846.03,532.52L846.37,531.06L846.73,529.60L847.09,528.15L847.46,526.70L847.83,525.25L848.22,523.79L848.61,522.34L849.01,520.90L849.42,519.45L849.84,518.00L850.26,516.56L850.70,515.11L851.13,513.67L851.57,512.23L852.02,510.79L852.47,509.35L852.93,507.91L853.38,506.48L853.84,505.04L854.30,503.61L854.76,502.17L855.21,500.74L855.67,499.31L856.12,497.88L856.58,496.45L857.02,495.02L857.47,493.60L857.91,492.17L858.35,490.74L858.78,489.32L859.21,487.90L859.63,486.47L860.05,485.05L860.47,483.62L860.89,482.20L861.31,480.78L861.72,479.35L862.13,477.93L862.54,476.51L862.96,475.08L863.37,473.66L863.78,472.23L864.19,470.80L864.60,469.38L865.01,467.95L865.42,466.52L865.84,465.09L866.25,463.65L866.67,462.22L867.09,460.78L867.51,459.34L867.94,457.90L868.37,456.46L868.80,455.02L869.24,453.57L869.68,452.13L870.13,450.68L870.58,449.24L871.04,447.80L871.51,446.36L871.98,444.92L872.46,443.48L872.95,442.04L873.44,440.61L873.95,439.18L874.46,437.75L874.98,436.33L875.51,434.92L876.06,433.50L876.61,432.10L877.18,430.70L877.75,429.30L878.34,427.91L878.94,426.53L879.56,425.16L880.18,423.79L880.83,422.43L881.48,421.08L882.15,419.74L882.84,418.41L883.54,417.08L884.26,415.77L884.99,414.47L885.74,413.18L886.51,411.90L887.29,410.63L888.09,409.38L888.92,408.13L889.76,406.90L890.62,405.69L891.50,404.48L892.40,403.29L893.32,402.12L894.26,400.96L895.23,399.82L896.21,398.69L897.22,397.58L898.25,396.48L899.31,395.40L900.39,394.34L901.49,393.30L902.62,392.27L903.77,391.30L904.93,390.44L906.11,389.77L907.29,389.35L908.48,389.26L909.65,389.55L910.80,390.18L911.90,391.09L912.95,392.22L913.91,393.53L914.79,394.94L915.61,396.44L916.39,397.98L917.16,399.52L917.94,401.03L918.77,402.46L919.65,403.80L920.59,405.05L921.58,406.20L922.62,407.27L923.71,408.24L924.84,409.13L926.02,409.93L927.23,410.64L928.49,411.27L929.77,411.82L931.10,412.28L932.45,412.67L933.82,412.98L935.23,413.22L936.65,413.38L938.10,413.47L939.56,413.50L941.04,413.46L942.53,413.37L944.03,413.22L945.54,413.02L947.06,412.78L948.58,412.48L950.10,412.15L951.62,411.78L953.13,411.37L954.64,410.93L956.15,410.47L957.64,409.98L959.12,409.47L960.58,408.94L962.02,408.40L963.45,407.85L964.85,407.29L966.24,406.73L967.60,406.15L968.95,405.57L970.29,404.99L971.61,404.40L972.92,403.80L974.23,403.19L975.53,402.58L976.83,401.96L978.12,401.33L979.42,400.69L980.72,400.05L982.03,399.40L983.35,398.74L984.67,398.08L986.01,397.41L987.36,396.73L988.74,396.04L990.13,395.35L991.54,394.64L992.96,393.94L994.41,393.26L995.86,392.60L997.31,391.98L998.77,391.41L1000.22,390.91L1001.66,390.49L1003.08,390.15L1004.49,389.92L1005.87,389.80L1007.22,389.81L1008.54,389.96L1009.82,390.26L1011.06,390.73L1012.25,391.37L1013.39,392.18L1014.50,393.14L1015.58,394.22L1016.65,395.38L1017.70,396.62L1018.76,397.89L1019.82,399.17L1020.91,400.44L1022.02,401.68L1023.17,402.84L1024.37,403.92L1025.62,404.88L1026.92,405.71L1028.25,406.43L1029.61,407.02L1030.98,407.47L1032.37,407.80L1033.76,408.01L1035.16,408.10L1036.57,408.07L1037.98,407.95L1039.38,407.73L1040.79,407.42L1042.20,407.03L1043.60,406.57L1045.00,406.03L1046.39,405.43L1047.77,404.78L1049.14,404.08L1050.50,403.34L1051.85,402.57L1053.18,401.76L1054.49,400.94L1055.78,400.10L1057.05,399.26L1058.31,398.40L1059.55,397.54L1060.77,396.66L1061.97,395.78L1063.16,394.88L1064.34,393.97L1065.50,393.05L1066.65,392.12L1067.79,391.18L1068.91,390.23L1070.03,389.26L1071.15,388.28L1072.25,387.29L1073.34,386.29L1074.43,385.27L1075.52,384.25L1076.60,383.21L1077.67,382.17L1078.74,381.12L1079.81,380.06L1080.87,379.00L1081.93,377.93L1082.99,376.86L1084.05,375.79L1085.10,374.71L1086.16,373.63L1087.22,372.55L1088.27,371.47L1089.33,370.39L1090.39,369.31L1091.45,368.23L1092.52,367.16L1093.59,366.09L1094.66,365.03L1095.74,363.97L1096.82,362.92L1097.91,361.88L1099.01,360.84L1100.11,359.82L1101.22,358.80L1102.34,357.80L1103.46,356.80L1104.60,355.82L1105.74,354.84L1106.88,353.88L1108.04,352.93L1109.20,351.98L1110.37,351.05L1111.55,350.13L1112.73,349.21L1113.92,348.31L1115.12,347.41L1116.32,346.53L1117.53,345.65L1118.75,344.79L1119.97,343.93L1121.20,343.09L1122.43,342.25L1123.67,341.42L1124.92,340.60L1126.17,339.79L1127.43,338.99L1128.70,338.20L1129.97,337.41L1131.24,336.64L1132.52,335.87L1133.81,335.12L1135.10,334.37L1136.40,333.63L1137.70,332.90L1139.01,332.17L1140.32,331.46L1141.63,330.75L1142.95,330.05L1144.28,329.36L1145.61,328.68L1146.94,328.00L1148.28,327.34L1149.62,326.68L1150.97,326.03L1152.32,325.38L1153.68,324.75L1155.04,324.12L1156.40,323.49L1157.76,322.88L1159.13,322.27L1160.51,321.67L1161.88,321.08L1163.26,320.50L1164.64,319.92L1166.03,319.34L1167.42,318.78L1168.81,318.22L1170.20,317.67L1171.60,317.12L1173.00,316.59L1174.40,316.05L1175.81,315.53L1177.21,315.01L1178.62,314.50L1180.03,313.99L1181.45,313.49L1182.86,312.99L1184.28,312.51L1185.70,312.02L1187.12,311.55L1188.55,311.08L1189.98,310.61L1191.41,310.16L1192.84,309.70L1194.27,309.26L1195.70,308.81L1197.14,308.38L1198.58,307.95L1200.02,307.52L1201.46,307.11L1202.90,306.69L1204.35,306.28L1205.79,305.88L1207.24,305.48L1208.69,305.09L1210.14,304.71L1211.60,304.32L1213.05,303.95L1214.51,303.58L1215.96,303.21L1217.42,302.85L1218.88,302.49L1220.34,302.14L1221.80,301.79L1223.26,301.45L1224.73,301.11L1226.19,300.78L1227.66,300.45L1229.13,300.13L1230.59,299.81L1232.06,299.50L1233.53,299.19L1235.00,298.88L1236.47,298.58L1237.94,298.28L1239.42,297.99L1240.89,297.70L1242.36,297.42L1243.84,297.14L1245.31,296.86L1246.79,296.59L1248.26,296.32L1249.74,296.05L1251.22,295.79L1252.69,295.54L1254.17,295.28L1255.65,295.03L1257.13,294.79L1258.61,294.55L1260.09,294.31L1261.57,294.07L1263.05,293.84L1264.53,293.62L1266.01,293.39L1267.49,293.17L1268.97,292.96L1270.46,292.74L1271.94,292.53L1273.42,292.33L1274.91,292.13L1276.39,291.93L1277.88,291.73L1279.36,291.54L1280.85,291.35L1282.33,291.16L1283.82,290.98L1285.31,290.80L1286.79,290.62L1288.28,290.45L1289.77,290.28L1291.26,290.11L1292.75,289.95L1294.23,289.79L1295.72,289.63L1297.21,289.47L1298.70,289.32L1300.19,289.17L1301.68,289.02L1303.17,288.88L1304.67,288.74L1306.16,288.60L1307.65,288.47L1309.14,288.33L1310.63,288.20L1312.13,288.07L1313.62,287.95L1315.11,287.83L1316.61,287.71L1318.10,287.59L1319.59,287.47L1321.09,287.36L1322.58,287.25L1324.08,287.14L1325.57,287.04L1327.07,286.93L1328.56,286.83L1330.06,286.73L1331.56,286.64L1333.05,286.54L1334.55,286.45L1336.05,286.36L1337.54,286.27L1339.04,286.18L1340.54,286.10L1342.03,286.02L1343.53,285.94L1345.03,285.86L1346.53,285.78L1348.03,285.71L1349.53,285.64L1351.02,285.56L1352.52,285.50L1354.02,285.43L1355.52,285.36L1357.02,285.30L1358.52,285.24L1360.02,285.17L1361.52,285.12L1363.02,285.06L1364.52,285.00L1366.02,284.95L1367.52,284.89L1369.02,284.84L1370.52,284.79L1372.02,284.74L1373.52,284.69L1375.02,284.65L1376.52,284.60L1378.02,284.56L1379.52,284.52L1381.02,284.47L1382.52,284.43L1384.02,284.39L1385.53,284.36L1387.03,284.32L1388.53,284.28L1390.03,284.25L1391.53,284.21L1393.03,284.18L1394.53,284.15L1396.03,284.12L1397.53,284.09L1399.04,284.06L1400.54,284.03L1402.04,284.00L1403.54,283.97L1405.04,283.94L1406.54,283.92L1408.04,283.89L1409.54,283.86L1411.05,283.84L1412.55,283.82L1414.05,283.79L1415.55,283.77L1417.05,283.75L1418.55,283.72L1420.05,283.70L1421.55,283.68L1423.05,283.66L1424.55,283.64L1426.05,283.61L1427.55,283.59L1429.05,283.57L1430.55,283.55L1432.05,283.53L1433.55,283.51L1435.05,283.49L1436.55,283.47L1438.05,283.45L1439.55,283.43L1441.05,283.41L1442.55,283.39L1444.05,283.37L1445.55,283.35L1447.05,283.32L1448.55,283.30L1450.05,283.28L1451.54,283.26L1453.04,283.24L1454.54,283.21L1456.04,283.19L1457.54,283.17L1459.03,283.14L1460.53,283.12L1462.03,283.09L1463.52,283.07L1465.02,283.04L1466.52,283.01L1468.01,282.99L1469.51,282.96L1471.00,282.93L1472.50,282.90" fill="none" stroke="#e0141a" stroke-width="5.0" stroke-linejoin="round" stroke-linecap="butt"/>
<path d="M336.30,314.40L336.64,315.86L336.99,317.31L337.34,318.77L337.69,320.22L338.04,321.67L338.39,323.12L338.75,324.58L339.10,326.03L339.46,327.48L339.81,328.93L340.17,330.38L340.52,331.83L340.87,333.29L341.22,334.74L341.57,336.19L341.92,337.64L342.27,339.10L342.61,340.55L342.95,342.01L343.29,343.46L343.62,344.92L343.95,346.38L344.27,347.84L344.59,349.30L344.91,350.76L345.21,352.22L345.52,353.69L345.81,355.16L346.11,356.63L346.39,358.10L346.67,359.57L346.94,361.05L347.20,362.52L347.45,364.00L347.70,365.49L347.93,366.97L348.16,368.46L348.38,369.95L348.59,371.44L348.80,372.94L349.01,374.43L349.21,375.93L349.41,377.43L349.61,378.92L349.81,380.42L350.01,381.91L350.22,383.41L350.43,384.90L350.64,386.39L350.86,387.88L351.09,389.36L351.33,390.85L351.58,392.33L351.84,393.80L352.11,395.27L352.39,396.74L352.69,398.20L353.00,399.66L353.33,401.11L353.68,402.56L354.04,404.00L354.43,405.43L354.84,406.86L355.27,408.28L355.72,409.69L356.20,411.09L356.70,412.49L357.22,413.88L357.76,415.26L358.32,416.63L358.90,418.00L359.49,419.37L360.10,420.73L360.73,422.08L361.37,423.43L362.03,424.78L362.69,426.12L363.37,427.45L364.06,428.79L364.76,430.12L365.46,431.44L366.18,432.77L366.90,434.09L367.63,435.41L368.36,436.73L369.09,438.04L369.83,439.36L370.57,440.67L371.31,441.99L372.05,443.30L372.79,444.62L373.53,445.93L374.27,447.24L375.02,448.55L375.77,449.85L376.53,451.15L377.30,452.43L378.08,453.72L378.87,454.99L379.67,456.25L380.49,457.50L381.32,458.73L382.18,459.96L383.05,461.16L383.94,462.36L384.86,463.53L385.79,464.70L386.73,465.85L387.69,466.99L388.67,468.12L389.65,469.24L390.65,470.35L391.66,471.45L392.68,472.54L393.71,473.63L394.74,474.71L395.78,475.78L396.82,476.85L397.87,477.91L398.93,478.97L399.99,480.03L401.06,481.08L402.13,482.12L403.21,483.16L404.29,484.19L405.37,485.22L406.47,486.25L407.56,487.27L408.66,488.28L409.77,489.29L410.88,490.30L411.99,491.30L413.11,492.30L414.24,493.29L415.37,494.27L416.50,495.26L417.63,496.23L418.78,497.21L419.92,498.17L421.07,499.14L422.22,500.09L423.38,501.05L424.54,502.00L425.71,502.94L426.88,503.88L428.05,504.82L429.22,505.75L430.40,506.68L431.59,507.60L432.77,508.52L433.96,509.43L435.16,510.34L436.35,511.24L437.55,512.14L438.76,513.04L439.96,513.93L441.17,514.82L442.38,515.70L443.60,516.58L444.81,517.45L446.03,518.32L447.26,519.19L448.48,520.05L449.71,520.91L450.94,521.76L452.17,522.61L453.41,523.45L454.65,524.29L455.89,525.13L457.13,525.96L458.37,526.79L459.62,527.61L460.87,528.43L462.13,529.24L463.39,530.04L464.65,530.84L465.92,531.63L467.19,532.41L468.47,533.18L469.75,533.94L471.04,534.69L472.34,535.43L473.64,536.16L474.95,536.88L476.27,537.58L477.60,538.27L478.93,538.95L480.28,539.62L481.63,540.27L482.99,540.90L484.37,541.52L485.75,542.12L487.14,542.71L488.55,543.28L489.96,543.83L491.39,544.36L492.83,544.88L494.28,545.38L495.73,545.87L497.17,546.36L498.62,546.85L500.05,547.35L501.47,547.86L502.87,548.39L504.25,548.95L505.60,549.53L506.91,550.15L508.20,550.81L509.44,551.51L510.64,552.27L511.79,553.07L512.89,553.94L513.93,554.87L514.93,555.86L515.87,556.91L516.77,558.01L517.61,559.18L518.42,560.39L519.20,561.65L519.94,562.95L520.65,564.28L521.35,565.63L522.03,567.01L522.70,568.40L523.37,569.80L524.04,571.20L524.71,572.60L525.39,574.00L526.09,575.38L526.81,576.74L527.56,578.07L528.33,579.38L529.15,580.64L530.00,581.87L530.90,583.05L531.84,584.17L532.83,585.25L533.86,586.29L534.93,587.28L536.04,588.24L537.18,589.15L538.36,590.03L539.56,590.87L540.80,591.68L542.06,592.46L543.34,593.21L544.64,593.93L545.97,594.63L547.30,595.30L548.66,595.96L550.02,596.59L551.40,597.21L552.78,597.81L554.17,598.40L555.56,598.98L556.96,599.55L558.35,600.11L559.76,600.65L561.16,601.19L562.57,601.72L563.98,602.24L565.39,602.75L566.80,603.25L568.22,603.75L569.64,604.24L571.06,604.73L572.48,605.21L573.90,605.68L575.33,606.15L576.75,606.62L578.18,607.08L579.61,607.54L581.04,608.00L582.46,608.45L583.89,608.91L585.32,609.36L586.75,609.81L588.18,610.26L589.61,610.72L591.04,611.17L592.46,611.63L593.89,612.09L595.32,612.55L596.74,613.01L598.17,613.48L599.59,613.95L601.01,614.42L602.43,614.91L603.84,615.39L605.26,615.88L606.67,616.38L608.08,616.89L609.49,617.41L610.90,617.93L612.30,618.46L613.70,619.00L615.09,619.55L616.49,620.11L617.88,620.68L619.26,621.26L620.64,621.85L622.02,622.46L623.39,623.08L624.76,623.71L626.12,624.35L627.48,625.00L628.82,625.67L630.16,626.35L631.50,627.05L632.82,627.76L634.13,628.48L635.44,629.22L636.73,629.97L638.02,630.74L639.29,631.52L640.55,632.31L641.80,633.12L643.03,633.95L644.25,634.79L645.46,635.65L646.65,636.53L647.83,637.42L649.00,638.33L650.16,639.25L651.31,640.18L652.45,641.12L653.59,642.07L654.72,643.02L655.86,643.98L657.00,644.94L658.14,645.91L659.29,646.87L660.45,647.84L661.61,648.80L662.78,649.77L663.95,650.73L665.12,651.70L666.29,652.68L667.46,653.66L668.62,654.64L669.78,655.63L670.94,656.62L672.08,657.62L673.22,658.64L674.35,659.65L675.46,660.68L676.57,661.72L677.66,662.77L678.73,663.84L679.78,664.91L680.82,666.00L681.84,667.10L682.83,668.22L683.80,669.35L684.75,670.50L685.67,671.67L686.57,672.85L687.44,674.05L688.29,675.27L689.12,676.50L689.92,677.74L690.71,679.00L691.47,680.27L692.21,681.55L692.93,682.84L693.63,684.15L694.31,685.47L694.98,686.80L695.62,688.14L696.24,689.49L696.85,690.86L697.44,692.23L698.02,693.60L698.58,694.99L699.12,696.39L699.64,697.79L700.16,699.20L700.66,700.62L701.14,702.04L701.61,703.47L702.07,704.90L702.52,706.34L702.95,707.78L703.38,709.22L703.79,710.67L704.19,712.12L704.58,713.58L704.97,715.03L705.34,716.49L705.71,717.95L706.06,719.41L706.41,720.87L706.75,722.33L707.09,723.80L707.41,725.26L707.73,726.72L708.04,728.19L708.34,729.66L708.63,731.13L708.91,732.60L709.19,734.07L709.46,735.54L709.73,737.01L709.98,738.48L710.23,739.96L710.47,741.43L710.71,742.91L710.94,744.39L711.16,745.86L711.37,747.34L711.58,748.82L711.78,750.30L711.98,751.78L712.17,753.26L712.35,754.75L712.53,756.23L712.70,757.72L712.87,759.20L713.03,760.69L713.18,762.17L713.33,763.66L713.47,765.15L713.61,766.64L713.74,768.13L713.86,769.62L713.99,771.11L714.10,772.60L714.21,774.09L714.32,775.58L714.42,777.07L714.52,778.57L714.61,780.06L714.70,781.56L714.78,783.05L714.86,784.55L714.94,786.04L715.01,787.54L715.08,789.04L715.14,790.53L715.20,792.03L715.26,793.53L715.31,795.03L715.36,796.53L715.40,798.03L715.45,799.53L715.48,801.03L715.52,802.53L715.55,804.03L715.58,805.53L715.61,807.03L715.63,808.53L715.65,810.04L715.67,811.54L715.69,813.04L715.70,814.54L715.71,816.05L715.72,817.55L715.73,819.05L715.74,820.56L715.74,822.06L715.74,823.56L715.74,825.07L715.74,826.57L715.73,828.07L715.73,829.58L715.72,831.08L715.72,832.59L715.71,834.09L715.70,835.60L715.69,837.10L715.68,838.60L715.66,840.11L715.65,841.61L715.64,843.12L715.62,844.62L715.61,846.13L715.59,847.63L715.58,849.13L715.56,850.64L715.55,852.14L715.53,853.64L715.52,855.15L715.50,856.65L715.49,858.15L715.47,859.65L715.46,861.16L715.45,862.66L715.44,864.16L715.42,865.66L715.41,867.16L715.40,868.67L715.40,870.17L715.39,871.67L715.38,873.17L715.38,874.67L715.38,876.17L715.38,877.66L715.38,879.16L715.38,880.66L715.38,882.16L715.39,883.66L715.40,885.15L715.41,886.65L715.42,888.14L715.43,889.64L715.45,891.13L715.47,892.63L715.49,894.12L715.52,895.62L715.55,897.11L715.58,898.60L715.61,900.09L715.65,901.58L715.69,903.07L715.73,904.56L715.78,906.05L715.83,907.54L715.88,909.03L715.94,910.51L716.00,912.00" fill="none" stroke="#0c0cb8" stroke-width="5.0" stroke-linejoin="round" stroke-linecap="butt"/>
<path d="M716.40,912.00L716.44,910.50L716.48,909.00L716.51,907.50L716.55,906.00L716.58,904.50L716.61,903.00L716.64,901.50L716.66,899.99L716.69,898.49L716.71,896.99L716.73,895.49L716.75,893.99L716.77,892.49L716.78,890.99L716.80,889.49L716.81,887.99L716.82,886.49L716.83,884.99L716.84,883.49L716.85,881.99L716.85,880.49L716.86,878.98L716.87,877.48L716.87,875.98L716.87,874.48L716.87,872.98L716.88,871.48L716.88,869.98L716.88,868.48L716.88,866.98L716.88,865.48L716.87,863.98L716.87,862.48L716.87,860.98L716.87,859.48L716.87,857.98L716.86,856.48L716.86,854.98L716.86,853.48L716.85,851.98L716.85,850.48L716.85,848.98L716.85,847.48L716.85,845.98L716.84,844.48L716.84,842.98L716.84,841.48L716.84,839.98L716.84,838.48L716.84,836.98L716.84,835.48L716.85,833.98L716.85,832.49L716.85,830.99L716.86,829.49L716.86,827.99L716.87,826.49L716.88,824.99L716.89,823.49L716.90,821.99L716.91,820.50L716.92,819.00L716.94,817.50L716.95,816.00L716.97,814.50L716.99,813.01L717.01,811.51L717.03,810.01L717.05,808.51L717.08,807.02L717.11,805.52L717.14,804.02L717.17,802.52L717.20,801.03L717.24,799.53L717.28,798.03L717.32,796.54L717.36,795.04L717.40,793.54L717.45,792.05L717.50,790.55L717.55,789.06L717.61,787.56L717.66,786.06L717.72,784.57L717.79,783.07L717.85,781.58L717.92,780.08L717.99,778.59L718.07,777.09L718.14,775.60L718.23,774.10L718.31,772.61L718.40,771.11L718.49,769.62L718.58,768.13L718.68,766.63L718.78,765.14L718.88,763.65L718.99,762.15L719.10,760.66L719.22,759.17L719.34,757.67L719.46,756.18L719.59,754.69L719.72,753.20L719.85,751.70L719.99,750.21L720.13,748.72L720.28,747.23L720.43,745.74L720.59,744.25L720.75,742.75L720.91,741.26L721.08,739.77L721.26,738.28L721.43,736.79L721.62,735.30L721.80,733.81L722.00,732.32L722.19,730.83L722.40,729.34L722.60,727.86L722.81,726.37L723.03,724.88L723.25,723.39L723.48,721.90L723.72,720.41L723.95,718.93L724.20,717.44L724.45,715.95L724.71,714.47L724.97,712.98L725.24,711.50L725.52,710.02L725.80,708.54L726.09,707.06L726.39,705.59L726.70,704.12L727.02,702.64L727.35,701.18L727.68,699.71L728.02,698.25L728.38,696.79L728.74,695.33L729.11,693.88L729.50,692.43L729.89,690.99L730.30,689.54L730.71,688.11L731.14,686.67L731.58,685.25L732.03,683.82L732.49,682.41L732.97,680.99L733.45,679.58L733.95,678.18L734.47,676.78L734.99,675.39L735.53,674.01L736.09,672.63L736.66,671.26L737.24,669.89L737.84,668.53L738.45,667.18L739.08,665.83L739.72,664.49L740.38,663.16L741.06,661.84L741.75,660.52L742.45,659.22L743.18,657.92L743.92,656.62L744.68,655.34L745.46,654.07L746.25,652.80L747.06,651.55L747.89,650.30L748.74,649.06L749.60,647.83L750.47,646.60L751.36,645.38L752.25,644.17L753.16,642.96L754.07,641.76L754.99,640.56L755.92,639.36L756.85,638.17L757.79,636.98L758.73,635.79L759.67,634.60L760.60,633.41L761.54,632.22L762.47,631.03L763.40,629.84L764.33,628.65L765.25,627.46L766.15,626.26L767.06,625.06L767.95,623.86L768.82,622.65L769.69,621.43L770.55,620.22L771.40,619.00L772.24,617.77L773.08,616.55L773.92,615.33L774.76,614.10L775.60,612.88L776.44,611.66L777.29,610.44L778.15,609.23L779.01,608.02L779.89,606.82L780.77,605.62L781.66,604.42L782.55,603.22L783.44,602.03L784.34,600.83L785.24,599.64L786.13,598.44L787.02,597.24L787.91,596.03L788.78,594.82L789.65,593.60L790.51,592.38L791.36,591.15L792.20,589.91L793.02,588.66L793.83,587.41L794.63,586.14L795.41,584.87L796.19,583.59L796.95,582.31L797.71,581.02L798.45,579.72L799.19,578.42L799.92,577.11L800.64,575.80L801.35,574.48L802.05,573.16L802.75,571.83L803.44,570.51L804.12,569.17L804.80,567.84L805.47,566.50L806.14,565.16L806.80,563.82L807.45,562.47L808.10,561.12L808.75,559.77L809.39,558.41L810.02,557.06L810.66,555.70L811.28,554.34L811.91,552.98L812.53,551.61L813.15,550.25L813.76,548.88L814.37,547.51L814.98,546.14L815.59,544.77L816.19,543.40L816.79,542.02L817.39,540.65L817.99,539.27L818.59,537.90L819.18,536.52L819.78,535.14L820.37,533.77L820.97,532.39L821.56,531.01L822.15,529.63L822.74,528.25L823.34,526.88L823.93,525.50L824.52,524.12L825.12,522.74L825.72,521.37L826.31,519.99L826.91,518.62L827.51,517.25L828.12,515.87L828.72,514.50L829.33,513.13L829.94,511.76L830.55,510.39L831.16,509.03L831.78,507.66L832.41,506.30L833.03,504.94L833.66,503.58L834.29,502.23L834.93,500.87L835.57,499.52L836.22,498.17L836.87,496.83L837.53,495.48L838.19,494.14L838.86,492.80L839.53,491.47L840.21,490.13L840.90,488.81L841.59,487.48L842.29,486.16L842.99,484.84L843.70,483.52L844.42,482.21L845.15,480.91L845.88,479.60L846.63,478.30L847.38,477.01L848.13,475.72L848.90,474.43L849.68,473.15L850.46,471.87L851.25,470.60L852.06,469.33L852.87,468.07L853.69,466.81L854.52,465.56L855.37,464.31L856.21,463.07L857.07,461.83L857.92,460.59L858.77,459.34L859.61,458.10L860.43,456.84L861.24,455.59L862.03,454.32L862.80,453.04L863.54,451.75L864.25,450.44L864.93,449.12L865.57,447.78L866.17,446.43L866.75,445.06L867.31,443.69L867.85,442.30L868.38,440.90L868.89,439.50L869.41,438.10L869.92,436.69L870.44,435.28L870.97,433.88L871.51,432.48L872.07,431.08L872.65,429.69L873.26,428.31L873.89,426.93L874.54,425.57L875.22,424.21L875.92,422.87L876.63,421.53L877.37,420.20L878.12,418.89L878.89,417.58L879.67,416.28L880.46,415.00L881.27,413.73L882.08,412.46L882.91,411.21L883.74,409.97L884.58,408.75L885.43,407.53L886.28,406.33L887.15,405.14L888.02,403.96L888.90,402.79L889.80,401.64L890.72,400.50L891.65,399.37L892.60,398.26L893.57,397.16L894.56,396.07L895.58,394.99L896.62,393.93L897.69,392.88L898.79,391.85L899.92,390.82L901.08,389.81L902.27,388.82L903.50,387.83L904.77,386.86L906.08,385.92L907.41,385.00L908.77,384.14L910.14,383.34L911.54,382.62L912.94,381.99L914.34,381.47L915.74,381.07L917.14,380.80L918.52,380.68L919.89,380.72L921.22,380.93L922.51,381.30L923.73,381.83L924.88,382.53L925.93,383.38L926.86,384.39L927.69,385.54L928.42,386.81L929.06,388.18L929.63,389.62L930.15,391.11L930.61,392.63L931.05,394.15L931.47,395.66L931.87,397.15L932.25,398.63L932.61,400.10L932.95,401.56L933.28,403.01L933.59,404.45L933.88,405.89L934.15,407.33L934.41,408.77L934.64,410.22L934.86,411.66L935.07,413.12L935.25,414.58L935.42,416.05L935.58,417.54L935.71,419.04L935.83,420.56L935.93,422.09L936.02,423.65L936.09,425.23L936.15,426.83L936.22,428.43L936.30,430.03L936.41,431.62L936.57,433.19L936.78,434.73L937.05,436.22L937.41,437.67L937.85,439.06L938.40,440.38L939.06,441.62L939.84,442.77L940.73,443.83L941.70,444.80L942.77,445.66L943.91,446.40L945.12,447.03L946.39,447.54L947.70,447.91L949.06,448.14L950.44,448.24L951.86,448.20L953.29,448.05L954.75,447.79L956.22,447.45L957.70,447.03L959.20,446.54L960.69,446.01L962.19,445.45L963.68,444.86L965.17,444.27L966.65,443.69L968.12,443.13L969.57,442.59L971.00,442.09L972.43,441.62L973.85,441.18L975.26,440.76L976.67,440.37L978.08,440.01L979.49,439.67L980.91,439.35L982.33,439.05L983.77,438.77L985.22,438.51L986.68,438.26L988.17,438.03L989.67,437.82L991.20,437.62L992.76,437.43L994.33,437.26L995.91,437.12L997.49,437.03L999.05,436.99L1000.58,437.02L1002.06,437.14L1003.49,437.36L1004.84,437.69L1006.11,438.14L1007.29,438.73L1008.35,439.47L1009.30,440.37L1010.15,441.40L1010.91,442.55L1011.59,443.81L1012.21,445.17L1012.77,446.59L1013.30,448.07L1013.80,449.60L1014.28,451.15L1014.76,452.71L1015.26,454.27L1015.77,455.80L1016.32,457.30L1016.92,458.74L1017.58,460.12L1018.31,461.41L1019.12,462.60L1020.03,463.67L1021.05,464.61L1022.17,465.43L1023.38,466.14L1024.66,466.74L1026.02,467.24L1027.43,467.66L1028.89,468.01L1030.39,468.29L1031.91,468.52L1033.44,468.71L1034.98,468.86L1036.51,468.98L1038.04,469.08L1039.57,469.16L1041.10,469.21L1042.62,469.25L1044.14,469.26L1045.66,469.26L1047.17,469.24L1048.68,469.21L1050.19,469.16L1051.70,469.10L1053.21,469.03L1054.71,468.95L1056.22,468.85L1057.72,468.74L1059.21,468.62L1060.71,468.49L1062.20,468.35L1063.69,468.19L1065.18,468.03L1066.67,467.85L1068.15,467.66L1069.64,467.45L1071.12,467.24L1072.60,467.02L1074.07,466.78L1075.55,466.53L1077.02,466.28L1078.49,466.01L1079.95,465.73L1081.42,465.44L1082.88,465.14L1084.34,464.82L1085.79,464.50L1087.25,464.17L1088.70,463.83L1090.15,463.47L1091.60,463.11L1093.04,462.74L1094.48,462.36L1095.92,461.96L1097.36,461.56L1098.79,461.15L1100.23,460.73L1101.65,460.29L1103.08,459.85L1104.51,459.40L1105.93,458.94L1107.35,458.48L1108.76,458.00L1110.17,457.51L1111.58,457.02L1112.99,456.51L1114.40,456.00L1115.80,455.48L1117.20,454.95L1118.60,454.41L1119.99,453.86L1121.38,453.31L1122.77,452.75L1124.16,452.17L1125.54,451.59L1126.92,451.01L1128.29,450.41L1129.67,449.81L1131.04,449.20L1132.41,448.58L1133.77,447.95L1135.13,447.32L1136.49,446.68L1137.85,446.04L1139.21,445.39L1140.56,444.73L1141.91,444.07L1143.26,443.40L1144.60,442.72L1145.95,442.05L1147.29,441.36L1148.63,440.68L1149.97,439.99L1151.31,439.30L1152.65,438.60L1153.98,437.90L1155.32,437.20L1156.65,436.50L1157.98,435.79L1159.31,435.09L1160.65,434.38L1161.98,433.67L1163.31,432.96L1164.64,432.25L1165.97,431.54L1167.30,430.83L1168.63,430.12L1169.96,429.42L1171.29,428.71L1172.62,428.01L1173.96,427.30L1175.29,426.60L1176.62,425.90L1177.96,425.21L1179.29,424.52L1180.63,423.83L1181.97,423.14L1183.31,422.46L1184.65,421.78L1185.99,421.11L1187.34,420.44L1188.69,419.78L1190.03,419.13L1191.38,418.48L1192.74,417.83L1194.09,417.19L1195.45,416.56L1196.81,415.94L1198.17,415.32L1199.54,414.71L1200.91,414.11L1202.28,413.52L1203.65,412.93L1205.03,412.36L1206.41,411.79L1207.80,411.24L1209.18,410.69L1210.58,410.15L1211.97,409.63L1213.37,409.11L1214.77,408.61L1216.18,408.11L1217.59,407.62L1219.00,407.15L1220.42,406.68L1221.84,406.22L1223.26,405.77L1224.69,405.33L1226.12,404.90L1227.55,404.48L1228.98,404.07L1230.42,403.67L1231.86,403.28L1233.30,402.90L1234.75,402.52L1236.20,402.15L1237.65,401.80L1239.10,401.45L1240.56,401.11L1242.01,400.78L1243.47,400.46L1244.94,400.14L1246.40,399.84L1247.87,399.54L1249.34,399.25L1250.81,398.97L1252.28,398.69L1253.76,398.43L1255.23,398.17L1256.71,397.92L1258.19,397.68L1259.67,397.44L1261.15,397.22L1262.64,397.00L1264.12,396.79L1265.61,396.58L1267.10,396.39L1268.59,396.20L1270.08,396.01L1271.57,395.84L1273.06,395.67L1274.56,395.51L1276.05,395.35L1277.55,395.21L1279.04,395.06L1280.54,394.93L1282.04,394.80L1283.54,394.68L1285.04,394.57L1286.54,394.46L1288.04,394.36L1289.54,394.26L1291.04,394.17L1292.54,394.09L1294.04,394.01L1295.54,393.94L1297.04,393.87L1298.54,393.81L1300.04,393.75L1301.54,393.70L1303.04,393.66L1304.54,393.62L1306.05,393.59L1307.55,393.56L1309.05,393.54L1310.55,393.52L1312.05,393.51L1313.55,393.50L1315.04,393.49L1316.54,393.49L1318.04,393.49L1319.54,393.50L1321.04,393.51L1322.54,393.52L1324.04,393.54L1325.54,393.56L1327.04,393.58L1328.54,393.60L1330.04,393.63L1331.53,393.66L1333.03,393.69L1334.53,393.73L1336.03,393.77L1337.53,393.81L1339.03,393.85L1340.52,393.89L1342.02,393.93L1343.52,393.98L1345.02,394.02L1346.52,394.07L1348.01,394.12L1349.51,394.17L1351.01,394.21L1352.51,394.26L1354.01,394.31L1355.50,394.36L1357.00,394.41L1358.50,394.46L1360.00,394.51L1361.50,394.55L1362.99,394.60L1364.49,394.65L1365.99,394.69L1367.49,394.74L1368.98,394.78L1370.48,394.82L1371.98,394.86L1373.48,394.89L1374.98,394.93L1376.47,394.96L1377.97,394.99L1379.47,395.02L1380.97,395.04L1382.47,395.07L1383.96,395.09L1385.46,395.10L1386.96,395.12L1388.46,395.13L1389.96,395.13L1391.46,395.13L1392.95,395.13L1394.45,395.13L1395.95,395.12L1397.45,395.10L1398.95,395.08L1400.45,395.06L1401.95,395.03L1403.45,395.00L1404.95,394.96L1406.44,394.91L1407.94,394.86L1409.44,394.81L1410.94,394.75L1412.44,394.68L1413.94,394.61L1415.44,394.53L1416.94,394.45L1418.44,394.37L1419.94,394.28L1421.44,394.19L1422.94,394.09L1424.44,394.00L1425.94,393.90L1427.44,393.80L1428.94,393.69L1430.44,393.59L1431.94,393.49L1433.44,393.39L1434.94,393.28L1436.44,393.18L1437.94,393.08L1439.44,392.98L1440.94,392.88L1442.44,392.79L1443.94,392.70L1445.44,392.61L1446.94,392.52L1448.44,392.44L1449.94,392.37L1451.44,392.29L1452.94,392.23L1454.44,392.16L1455.93,392.11L1457.43,392.06L1458.93,392.02L1460.43,391.98L1461.93,391.95L1463.42,391.93L1464.92,391.92L1466.42,391.92L1467.91,391.92L1469.41,391.94L1470.90,391.96L1472.40,392.00" fill="none" stroke="#0c0cb8" stroke-width="5.0" stroke-linejoin="round" stroke-linecap="butt"/>
<rect x="191.90" y="32.90" width="1422.60" height="2.70" fill="#858585"/><rect x="191.90" y="30.50" width="1422.60" height="2.40" fill="#000"/>
<rect x="191.90" y="1071.20" width="1422.60" height="2.60" fill="#858585"/><rect x="191.90" y="1073.80" width="1422.60" height="2.70" fill="#000"/>
<rect x="191.90" y="30.50" width="2.20" height="1046.00" fill="#858585"/><rect x="194.10" y="30.50" width="2.70" height="1046.00" fill="#000"/>
<rect x="1609.20" y="30.50" width="2.80" height="1046.00" fill="#858585"/><rect x="1612.00" y="30.50" width="2.50" height="1046.00" fill="#000"/>
<rect x="333.80" y="1052.00" width="5.00" height="20.00" fill="#858585"/><rect x="336.00" y="1052.00" width="2.80" height="20.00" fill="#000"/>
<rect x="475.77" y="1063.00" width="5.00" height="9.00" fill="#858585"/><rect x="477.98" y="1063.00" width="2.80" height="9.00" fill="#000"/>
<rect x="617.75" y="1052.00" width="5.00" height="20.00" fill="#858585"/><rect x="619.95" y="1052.00" width="2.80" height="20.00" fill="#000"/>
<rect x="759.72" y="1063.00" width="5.00" height="9.00" fill="#858585"/><rect x="761.92" y="1063.00" width="2.80" height="9.00" fill="#000"/>
<rect x="901.70" y="1052.00" width="5.00" height="20.00" fill="#858585"/><rect x="903.90" y="1052.00" width="2.80" height="20.00" fill="#000"/>
<rect x="1043.67" y="1063.00" width="5.00" height="9.00" fill="#858585"/><rect x="1045.87" y="1063.00" width="2.80" height="9.00" fill="#000"/>
<rect x="1185.65" y="1052.00" width="5.00" height="20.00" fill="#858585"/><rect x="1187.85" y="1052.00" width="2.80" height="20.00" fill="#000"/>
<rect x="1327.62" y="1063.00" width="5.00" height="9.00" fill="#858585"/><rect x="1329.82" y="1063.00" width="2.80" height="9.00" fill="#000"/>
<rect x="1469.60" y="1052.00" width="5.00" height="20.00" fill="#858585"/><rect x="1471.80" y="1052.00" width="2.80" height="20.00" fill="#000"/>
<rect x="196.00" y="1018.60" width="23.00" height="5.40" fill="#858585"/><rect x="196.00" y="1018.60" width="23.00" height="2.80" fill="#000"/>
<rect x="196.00" y="964.90" width="12.00" height="5.40" fill="#858585"/><rect x="196.00" y="964.90" width="12.00" height="2.80" fill="#000"/>
<rect x="196.00" y="911.20" width="23.00" height="5.40" fill="#858585"/><rect x="196.00" y="911.20" width="23.00" height="2.80" fill="#000"/>
<rect x="196.00" y="857.50" width="12.00" height="5.40" fill="#858585"/><rect x="196.00" y="857.50" width="12.00" height="2.80" fill="#000"/>
<rect x="196.00" y="803.80" width="23.00" height="5.40" fill="#858585"/><rect x="196.00" y="803.80" width="23.00" height="2.80" fill="#000"/>
<rect x="196.00" y="750.10" width="12.00" height="5.40" fill="#858585"/><rect x="196.00" y="750.10" width="12.00" height="2.80" fill="#000"/>
<rect x="196.00" y="696.40" width="23.00" height="5.40" fill="#858585"/><rect x="196.00" y="696.40" width="23.00" height="2.80" fill="#000"/>
<rect x="196.00" y="642.70" width="12.00" height="5.40" fill="#858585"/><rect x="196.00" y="642.70" width="12.00" height="2.80" fill="#000"/>
<rect x="196.00" y="589.00" width="23.00" height="5.40" fill="#858585"/><rect x="196.00" y="589.00" width="23.00" height="2.80" fill="#000"/>
<rect x="196.00" y="535.30" width="12.00" height="5.40" fill="#858585"/><rect x="196.00" y="535.30" width="12.00" height="2.80" fill="#000"/>
<rect x="196.00" y="481.60" width="23.00" height="5.40" fill="#858585"/><rect x="196.00" y="481.60" width="23.00" height="2.80" fill="#000"/>
<rect x="196.00" y="427.90" width="12.00" height="5.40" fill="#858585"/><rect x="196.00" y="427.90" width="12.00" height="2.80" fill="#000"/>
<rect x="196.00" y="374.20" width="23.00" height="5.40" fill="#858585"/><rect x="196.00" y="374.20" width="23.00" height="2.80" fill="#000"/>
<rect x="196.00" y="320.50" width="12.00" height="5.40" fill="#858585"/><rect x="196.00" y="320.50" width="12.00" height="2.80" fill="#000"/>
<rect x="196.00" y="266.80" width="23.00" height="5.40" fill="#858585"/><rect x="196.00" y="266.80" width="23.00" height="2.80" fill="#000"/>
<rect x="196.00" y="213.10" width="12.00" height="5.40" fill="#858585"/><rect x="196.00" y="213.10" width="12.00" height="2.80" fill="#000"/>
<rect x="196.00" y="159.40" width="23.00" height="5.40" fill="#858585"/><rect x="196.00" y="159.40" width="23.00" height="2.80" fill="#000"/>
<rect x="196.00" y="105.70" width="12.00" height="5.40" fill="#858585"/><rect x="196.00" y="105.70" width="12.00" height="2.80" fill="#000"/>
<rect x="196.00" y="52.00" width="23.00" height="5.40" fill="#858585"/><rect x="196.00" y="52.00" width="23.00" height="2.80" fill="#000"/>
<text x="171" y="73.2" text-anchor="end" class="t">1</text>
<text x="171" y="180.6" text-anchor="end" class="t">0</text>
<text x="171" y="288.0" text-anchor="end" class="t">-1</text>
<text x="171" y="395.4" text-anchor="end" class="t">-2</text>
<text x="171" y="502.8" text-anchor="end" class="t">-3</text>
<text x="171" y="610.2" text-anchor="end" class="t">-4</text>
<text x="171" y="717.6" text-anchor="end" class="t">-5</text>
<text x="171" y="825.0" text-anchor="end" class="t">-6</text>
<text x="171" y="932.4" text-anchor="end" class="t">-7</text>
<text x="171" y="1039.8" text-anchor="end" class="t">-8</text>
<text x="336.4" y="1147" text-anchor="middle" class="t">-1.0</text>
<text x="620.3" y="1147" text-anchor="middle" class="t">-0.5</text>
<text x="904.3" y="1147" text-anchor="middle" class="t">0.0</text>
<text x="1188.2" y="1147" text-anchor="middle" class="t">0.5</text>
<text x="1472.2" y="1147" text-anchor="middle" class="t">1.0</text>
<text x="781" y="1228.5" class="a">E/V</text><text x="871.8" y="1254.3" class="s">SCE</text>
<g transform="translate(71,659.5) rotate(-90)"><text x="0" y="0" class="y">logI/A</text></g>
<g transform="translate(71,511.8) rotate(-90)"><text x="0" y="0" class="y2">cm</text></g>
<g transform="translate(42,449) rotate(-90)"><text x="0" y="0" class="sup">-2</text></g>
<line x1="1041" y1="664.0" x2="1160.5" y2="664.0" stroke="#00e62a" stroke-width="4.4"/><text x="1173.6" y="680.5" class="t">45 steel</text><line x1="1041" y1="743.5" x2="1160.5" y2="743.5" stroke="#e0141a" stroke-width="4.4"/><text x="1173.6" y="761.0" class="t">laser cladding</text><line x1="1041" y1="823.5" x2="1160.5" y2="823.5" stroke="#0c0cb8" stroke-width="4.4"/><text x="1173.6" y="841.5" class="t">plasma spray</text>
</svg>
</body></html>
